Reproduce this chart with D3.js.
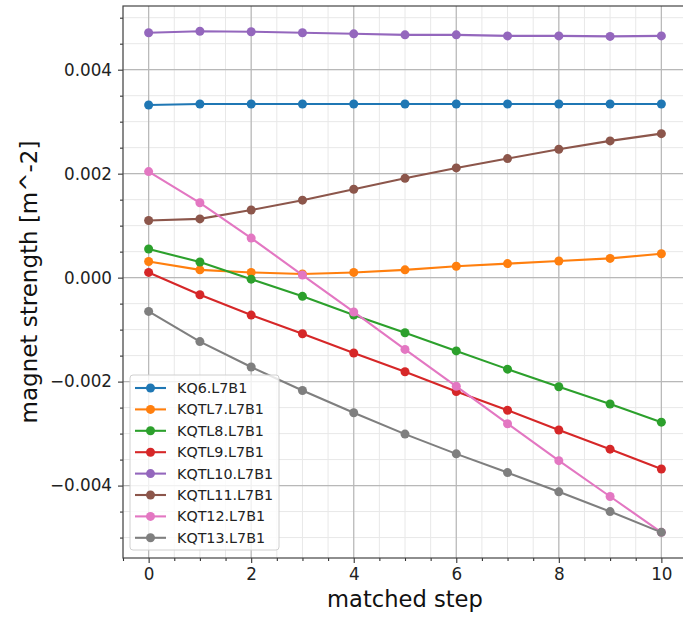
<!DOCTYPE html>
<html>
<head>
<meta charset="utf-8">
<script src="https://cdn.jsdelivr.net/npm/d3@7"></script>
<style>
  body { margin: 0; background: #fff; }
  svg { display: block; font-family: "DejaVu Sans", sans-serif; }
</style>
</head>
<body>
<svg id="chart" width="683" height="617"></svg>
<script>
// matched steps
const steps = [0, 1, 2, 3, 4, 5, 6, 7, 8, 9, 10]

// magnet names, in plotting order
const names = ["KQ6.L7B1", "KQTL7.L7B1", "KQTL8.L7B1", "KQTL9.L7B1",
               "KQTL10.L7B1", "KQTL11.L7B1", "KQT12.L7B1", "KQT13.L7B1"]
const colors = ["#1f77b4", "#ff7f0e", "#2ca02c", "#d62728",
                "#9467bd", "#8c564b", "#e377c2", "#7f7f7f"]

// strengths [m^-2]
const kq6    = [0.00332, 0.00334, 0.00334, 0.00334, 0.00334, 0.00334, 0.00334, 0.00334, 0.00334, 0.00334, 0.00334]
const kqtl7  = [0.00031, 0.00015, 0.00010, 0.00007, 0.00010, 0.00015, 0.00022, 0.00027, 0.00032, 0.00037, 0.00046]
const kqtl8  = [0.00055, 0.00030, -0.00003, -0.00036, -0.00072, -0.00106, -0.00141, -0.00176, -0.00210, -0.00243, -0.00278]
const kqtl9  = [0.00010, -0.00033, -0.00072, -0.00108, -0.00145, -0.00181, -0.00219, -0.00255, -0.00293, -0.00330, -0.00368]
const kqtl10 = [0.00471, 0.00474, 0.00473, 0.00471, 0.00469, 0.00467, 0.00467, 0.00465, 0.00465, 0.00464, 0.00465]
const kqtl11 = [0.00110, 0.00113, 0.00130, 0.00149, 0.00170, 0.00191, 0.00211, 0.00229, 0.00247, 0.00263, 0.00277]
const kqt12  = [0.00204, 0.00144, 0.00076, 0.00005, -0.00066, -0.00138, -0.00209, -0.00281, -0.00352, -0.00421, -0.00490]
const kqt13  = [-0.00065, -0.00123, -0.00172, -0.00217, -0.00260, -0.00301, -0.00339, -0.00375, -0.00412, -0.00450, -0.00490]

const series = [kq6, kqtl7, kqtl8, kqtl9, kqtl10, kqtl11, kqt12, kqt13]

const xTicks = [0, 2, 4, 6, 8, 10]
const yTicks = [-0.004, -0.002, 0, 0.002, 0.004]

const pLeft = 123, pRight = 687, pTop = 6, pBottom = 558

const svg = d3.select("#chart")

const x = d3.scaleLinear().domain([-0.5, 10.5]).range([pLeft, pRight])
const y = d3.scaleLinear().domain([-0.005393, 0.005225]).range([pBottom, pTop])

const xMinor = d3.range(-0.5, 10.51, 0.5)
const yMinor = d3.range(-0.005, 0.00501, 0.0005)

// minor grid
svg.append("g").selectAll("line").data(xMinor).join("line")
  .attr("x1", d => x(d)).attr("x2", d => x(d))
  .attr("y1", pTop).attr("y2", pBottom)
  .attr("stroke", "#e8e8e8").attr("stroke-width", 1)
svg.append("g").selectAll("line").data(yMinor).join("line")
  .attr("x1", pLeft).attr("x2", pRight)
  .attr("y1", d => y(d)).attr("y2", d => y(d))
  .attr("stroke", "#e8e8e8").attr("stroke-width", 1)

// major grid
svg.append("g").selectAll("line").data(xTicks).join("line")
  .attr("x1", d => x(d)).attr("x2", d => x(d))
  .attr("y1", pTop).attr("y2", pBottom)
  .attr("stroke", "#b8b8b8").attr("stroke-width", 1.2)
svg.append("g").selectAll("line").data(yTicks).join("line")
  .attr("x1", pLeft).attr("x2", pRight)
  .attr("y1", d => y(d)).attr("y2", d => y(d))
  .attr("stroke", "#b8b8b8").attr("stroke-width", 1.2)

// series: line then markers, one after another
const line = d3.line().x((d, i) => x(steps[i])).y(d => y(d))
series.forEach((vals, k) => {
  const g = svg.append("g")
  g.append("path")
    .attr("d", line(vals))
    .attr("fill", "none")
    .attr("stroke", colors[k])
    .attr("stroke-width", 2.1)
  g.selectAll("circle").data(vals).join("circle")
    .attr("cx", (d, i) => x(steps[i]))
    .attr("cy", d => y(d))
    .attr("r", 4.5)
    .attr("fill", colors[k])
})

// axes
const fmt = d3.format(".3f")
const xAxis = svg.append("g").attr("transform", `translate(0,${pBottom})`)
  .call(d3.axisBottom(x).tickValues(xTicks).tickSize(5).tickPadding(5))
const yAxis = svg.append("g").attr("transform", `translate(${pLeft},0)`)
  .call(d3.axisLeft(y).tickValues(yTicks).tickFormat(fmt).tickSize(5).tickPadding(6))
svg.append("g").attr("transform", `translate(0,${pBottom})`)
  .call(d3.axisBottom(x).tickValues(xMinor.filter(v => v % 2 != 0)).tickSize(3).tickFormat(""))
svg.append("g").attr("transform", `translate(${pLeft},0)`)
  .call(d3.axisLeft(y).tickValues(yMinor.filter(v => Math.abs(Math.round(v / 0.0005)) % 4 != 0)).tickSize(3).tickFormat(""))

svg.selectAll(".domain").remove()
svg.selectAll(".tick line").attr("stroke", "#333").attr("stroke-width", 1.1)
xAxis.selectAll("text").attr("font-size", 16.8).attr("fill", "#222")
  .attr("font-family", "DejaVu Sans")
yAxis.selectAll("text").attr("font-size", 16.8).attr("fill", "#222")
  .attr("font-family", "DejaVu Sans")

// frame
svg.append("rect")
  .attr("x", pLeft).attr("y", pTop)
  .attr("width", pRight - pLeft).attr("height", pBottom - pTop)
  .attr("fill", "none").attr("stroke", "#444").attr("stroke-width", 1.2)

// axis labels
svg.append("text")
  .attr("x", (pLeft + pRight) / 2).attr("y", 607)
  .attr("text-anchor", "middle")
  .attr("font-size", 22.6).attr("fill", "#111")
  .text("matched step")
svg.append("text")
  .attr("transform", `translate(37,${(pTop + pBottom) / 2}) rotate(-90)`)
  .attr("text-anchor", "middle")
  .attr("font-size", 23).attr("fill", "#111")
  .text("magnet strength [m^-2]")

// legend
const lg = svg.append("g")
lg.append("rect")
  .attr("x", 130).attr("y", 375)
  .attr("width", 149).attr("height", 175)
  .attr("rx", 3)
  .attr("fill", "#fff").attr("fill-opacity", 0.8)
  .attr("stroke", "#d0d0d0").attr("stroke-width", 1)
names.forEach((n, k) => {
  const yy = 388 + k * 21.4
  lg.append("line")
    .attr("x1", 135).attr("x2", 166)
    .attr("y1", yy).attr("y2", yy)
    .attr("stroke", colors[k]).attr("stroke-width", 2.1)
  lg.append("circle")
    .attr("cx", 150.5).attr("cy", yy).attr("r", 4.5)
    .attr("fill", colors[k])
  lg.append("text")
    .attr("x", 177).attr("y", yy + 5)
    .attr("font-size", 14.3).attr("fill", "#222")
    .text(n)
})
</script>
</body>
</html>
